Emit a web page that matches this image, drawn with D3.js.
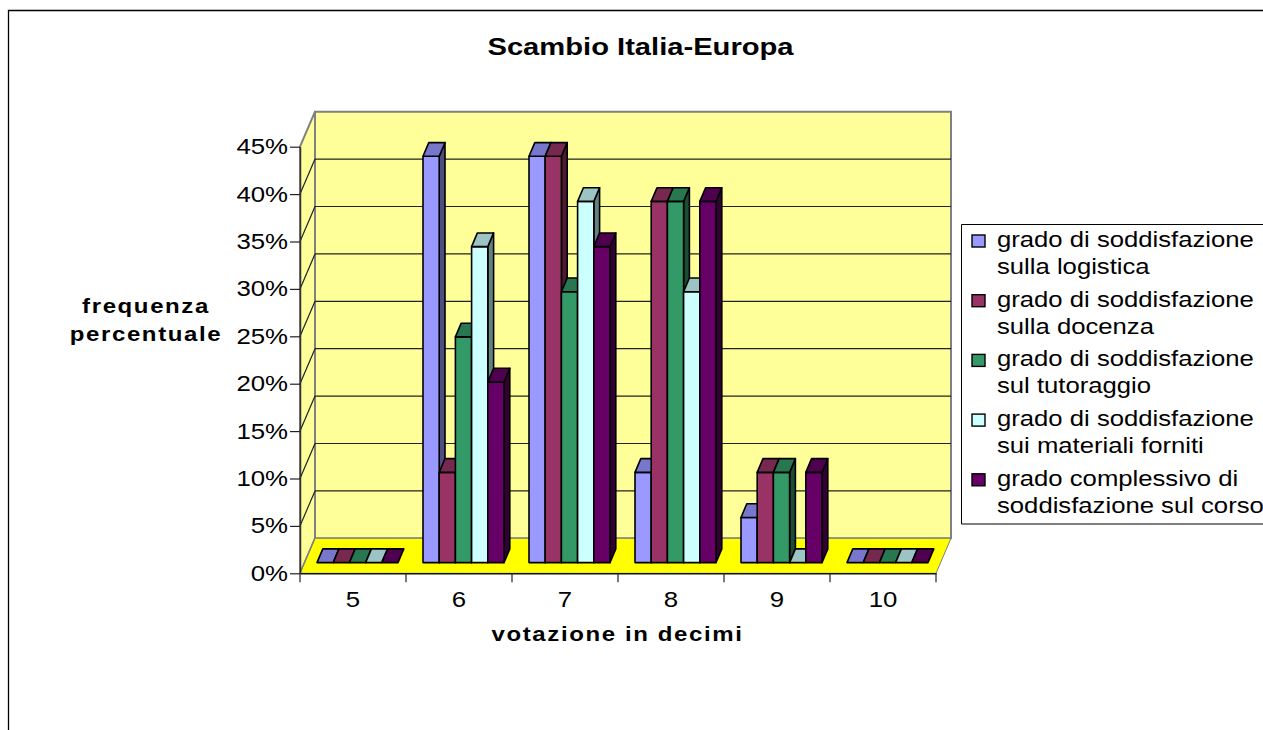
<!DOCTYPE html>
<html><head><meta charset="utf-8">
<script src="https://cdn.jsdelivr.net/npm/d3@7/dist/d3.min.js"></script>
<style>html,body{margin:0;padding:0;background:#fff;overflow:hidden}
svg{display:block}text{font-family:"Liberation Sans",Arial,sans-serif;fill:#000}</style>
</head><body><svg id="c" width="1263" height="730"></svg>
<script>
const categories=["5","6","7","8","9","10"];
const seriesNames=[
 ["grado di soddisfazione","sulla logistica"],
 ["grado di soddisfazione","sulla docenza"],
 ["grado di soddisfazione","sul tutoraggio"],
 ["grado di soddisfazione","sui materiali forniti"],
 ["grado complessivo di","soddisfazione sul corso"]];
const logistica=[0,42.86,42.86,9.52,4.76,0];
const docenza=[0,9.52,42.86,38.1,9.52,0];
const tutoraggio=[0,23.81,28.57,38.1,9.52,0];
const materiali=[0,33.33,38.1,28.57,0,0];
const complessivo=[0,19.05,33.33,38.1,9.52,0];
const allSeries=[logistica,docenza,tutoraggio,materiali,complessivo];
const colors=["#9999FF","#993366","#339966","#CCFFFF","#660066"];
const topColors=["#7777CC","#77284F","#287750","#9CC4C4","#4F004F"];
const sideColors=["#4D4D80","#4D1A33","#1A4D33","#668080","#330033"];
const yTicks=[0,5,10,15,20,25,30,35,40,45];

const svg=d3.select("#c");
const stretch=1.2;
function wide(sel,x,y){return sel.attr("transform",`translate(${x},${y}) scale(${stretch},1)`);}

const x0=300,x1=936,yBase=573.3,dxW=15,dyW=35;
const x=d3.scaleBand().domain(categories).range([x0,x1]);
const y=d3.scaleLinear().domain([0,45]).range([yBase,yBase-426.6]);

// outer frame
svg.append("path").attr("d","M8.5,730V10.5H1263").attr("fill","none").attr("stroke","#000").attr("stroke-width",1.3);

// title
wide(svg.append("text").text("Scambio Italia-Europa").attr("font-size",24.3).attr("font-weight","bold").attr("text-anchor","middle"),640.5,55);

// walls
const wallStroke="#808080";
svg.append("polygon").attr("points",[[x0+dxW,y(45)-dyW],[x1+dxW,y(45)-dyW],[x1+dxW,y(0)-dyW],[x0+dxW,y(0)-dyW]].join(" ")).attr("fill","#FFFF99").attr("stroke",wallStroke).attr("stroke-width",2);
svg.append("polygon").attr("points",[[x0,y(45)],[x0+dxW,y(45)-dyW],[x0+dxW,y(0)-dyW],[x0,y(0)]].join(" ")).attr("fill","#FFFF99").attr("stroke",wallStroke).attr("stroke-width",2);
svg.append("polygon").attr("points",[[x0,y(0)],[x0+dxW,y(0)-dyW],[x1+dxW,y(0)-dyW],[x1,y(0)]].join(" ")).attr("fill","#FFFF00").attr("stroke",wallStroke).attr("stroke-width",1);

// gridlines
const grid=yTicks.filter(t=>t>0&&t<45);
svg.append("g").selectAll("line").data(grid).join("line")
 .attr("x1",x0+dxW).attr("x2",x1+dxW).attr("y1",d=>y(d)-dyW).attr("y2",d=>y(d)-dyW).attr("stroke","#222").attr("stroke-width",1.2);
svg.append("g").selectAll("line").data(yTicks.filter(t=>t<45)).join("line")
 .attr("x1",x0).attr("x2",x0+dxW).attr("y1",d=>y(d)).attr("y2",d=>y(d)-dyW).attr("stroke",d=>d===0?wallStroke:"#222").attr("stroke-width",1.2);

// bars
const barW=16.2,barOff=17,barLift=10.7,dxB=5.8,dyB=13.7;
const g=svg.append("g").attr("stroke","#000").attr("stroke-width",1.6).attr("stroke-linejoin","round");
const items=[];
categories.forEach((c,i)=>allSeries.forEach((s,k)=>items.push({c,k,v:s[i]})));
items.forEach(d=>{
  const l=x(d.c)+barOff+d.k*barW,r=l+barW,b=y(0)-barLift,t=y(d.v)-barLift;
  if(d.v>0){
    g.append("polygon").attr("points",[[r,t],[r+dxB,t-dyB],[r+dxB,b-dyB],[r,b]].join(" ")).attr("fill",sideColors[d.k]);
    g.append("rect").attr("x",l).attr("y",t).attr("width",barW).attr("height",b-t).attr("fill",colors[d.k]);
  }
  g.append("polygon").attr("points",[[l,t],[l+dxB,t-dyB],[r+dxB,t-dyB],[r,t]].join(" ")).attr("fill",topColors[d.k]);
});

// axes
const yAxis=svg.append("g").attr("transform",`translate(${x0},0)`).call(d3.axisLeft(y).tickValues(yTicks).tickSize(10).tickSizeOuter(0).tickFormat(d=>d+"%"));
yAxis.select(".domain").attr("stroke","#333").attr("stroke-width",1.5);
yAxis.selectAll(".tick line").attr("stroke","#222").attr("stroke-width",1.2);
yAxis.selectAll(".tick text").each(function(d){
  d3.select(this).attr("x",null).attr("dy",null).attr("text-anchor","end").attr("font-size",21.5).attr("font-family",null)
   .attr("transform",`translate(-12,7) scale(${stretch},1)`);
});
const xAxis=svg.append("g").attr("transform",`translate(0,${yBase})`).call(d3.axisBottom(x).tickSize(0).tickPadding(0));
xAxis.select(".domain").attr("stroke","#111").attr("stroke-width",1.5);
xAxis.selectAll(".tick text").attr("y",null).attr("dy",null).attr("font-size",21.5).attr("font-family",null).attr("transform",`translate(0,34) scale(${stretch},1)`);
svg.append("g").selectAll("line").data(categories.concat(["end"])).join("line")
 .attr("x1",d=>d==="end"?x1:x(d)).attr("x2",d=>d==="end"?x1:x(d)).attr("y1",yBase).attr("y2",yBase+9).attr("stroke","#222").attr("stroke-width",1.2);

// axis titles
function axisTitle(t,px,py){wide(svg.append("text").text(t).attr("font-size",20).attr("font-weight","bold").attr("letter-spacing",1.35).attr("text-anchor","middle"),px,py);}
axisTitle("votazione in decimi",617.5,641);
axisTitle("frequenza",146,313);
axisTitle("percentuale",146,341);

// legend
svg.append("path").attr("d","M1263,224.5H961.5V524H1263").attr("fill","#fff").attr("stroke","#000").attr("stroke-width",1);
const lg=svg.append("g").selectAll("g").data(seriesNames).join("g");
lg.append("rect").attr("x",972).attr("y",(d,i)=>235+i*59.7).attr("width",13).attr("height",12).attr("fill",(d,i)=>colors[i]).attr("stroke","#000").attr("stroke-width",1.4);
lg.each(function(d,i){
  const s=d3.select(this);
  wide(s.append("text").text(d[0]).attr("font-size",21.4),997,247+i*59.7);
  wide(s.append("text").text(d[1]).attr("font-size",21.4),997,274+i*59.7);
});
</script></body></html>
